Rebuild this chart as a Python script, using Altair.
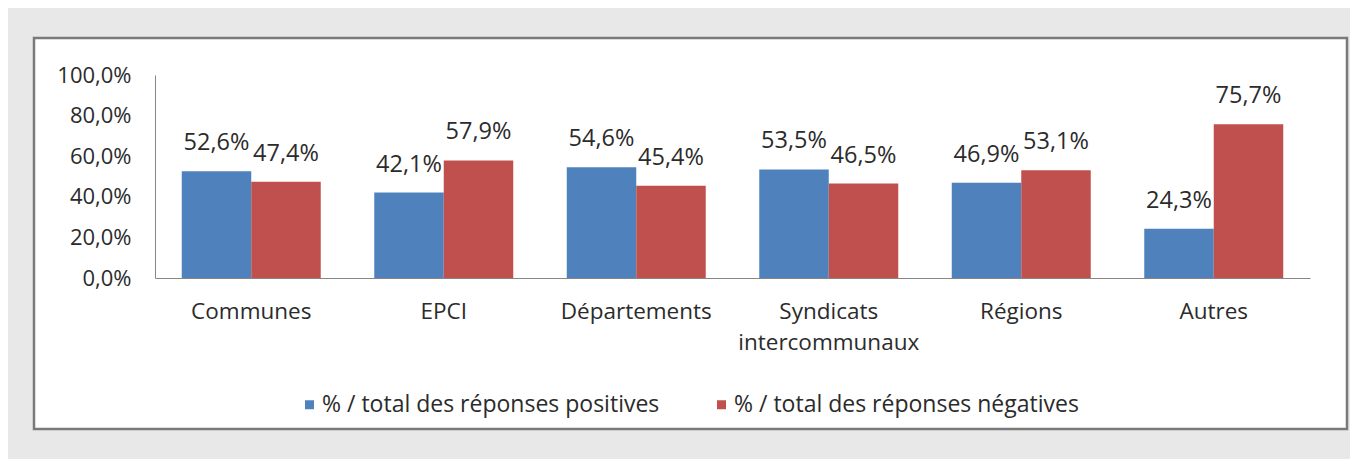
import altair as alt
import pandas as pd

categories = ["Communes", "EPCI", "Départements", "Syndicats intercommunaux", "Régions", "Autres"]
series = ["% / total des réponses positives", "% / total des réponses négatives"]
positives = [52.6, 42.1, 54.6, 53.5, 46.9, 24.3]
negatives = [47.4, 57.9, 45.4, 46.5, 53.1, 75.7]
y_ticks = [0, 20, 40, 60, 80, 100]

rows = []
for c, p, n in zip(categories, positives, negatives):
    rows.append({"cat": c, "serie": series[0], "val": p})
    rows.append({"cat": c, "serie": series[1], "val": n})
df = pd.DataFrame(rows)

FONT = "Open Sans"
TXT = "#2b2b2b"
AX = "#868686"

x_enc = alt.X(
    "cat:N",
    sort=categories,
    scale=alt.Scale(paddingInner=0.278, paddingOuter=0.139),
    axis=alt.Axis(
        title=None,
        labelAngle=0,
        ticks=False,
        grid=False,
        domainColor=AX,
        labelFont=FONT,
        labelFontSize=22.5,
        labelColor=TXT,
        labelPadding=22,
        labelLineHeight=31,
        labelLimit=400,
        zindex=1,
        labelExpr="datum.label == 'Syndicats intercommunaux' ? ['Syndicats', 'intercommunaux'] : datum.label",
    ),
)
xo_enc = alt.XOffset("serie:N", sort=series, scale=alt.Scale(paddingInner=0, paddingOuter=0))
y_enc = alt.Y(
    "val:Q",
    scale=alt.Scale(domain=[0, 100], nice=False),
    axis=alt.Axis(
        title=None,
        values=y_ticks,
        ticks=False,
        grid=False,
        domainColor=AX,
        labelFont=FONT,
        labelFontSize=22,
        labelColor=TXT,
        labelPadding=24,
        zindex=1,
        labelExpr="replace(format(datum.value, '.1f'), '.', ',') + '%'",
    ),
)

frame = alt.Chart(alt.Data(values=[{"k": 1}])).mark_rect(
    fill="white", stroke="#7a7a7a", strokeWidth=2.5
).encode(
    x=alt.value(-121), x2=alt.value(1192), y=alt.value(-37), y2=alt.value(354)
)

base = alt.Chart(df)

bars = base.mark_bar().encode(
    x=x_enc,
    xOffset=xo_enc,
    y=y_enc,
    color=alt.Color(
        "serie:N",
        sort=series,
        scale=alt.Scale(domain=series, range=["#4F81BD", "#C0504D"]),
        title=None,
        legend=alt.Legend(
            orient="none",
            direction="horizontal",
            legendX=143,
            legendY=318,
            symbolType="square",
            symbolSize=81,
            symbolStrokeWidth=0,
            labelFont=FONT,
            labelFontSize=23,
            labelColor=TXT,
            labelOffset=1,
            labelLimit=1000,
            columnPadding=50,
            padding=0,
            zindex=1,
        ),
    ),
)

labels = base.transform_calculate(
    lbl="replace(format(datum.val, '.1f'), '.', ',') + '%'"
).mark_text(
    baseline="alphabetic", dy=-21, font=FONT, fontSize=23.5, color=TXT
).encode(
    x=alt.X("cat:N", sort=categories),
    xOffset=alt.XOffset("serie:N", sort=series),
    y="val:Q",
    text="lbl:N",
)

chart = alt.layer(frame, bars, labels).properties(
    width=1155,
    height=203,
    background="#e8e8e8",
    padding={"left": 147, "top": 67, "right": 40, "bottom": 181},
    autosize=alt.AutoSizeParams(type="none"),
).configure_view(strokeWidth=0)

chart.save("out.html", embed_options={"renderer": "svg", "actions": False})
